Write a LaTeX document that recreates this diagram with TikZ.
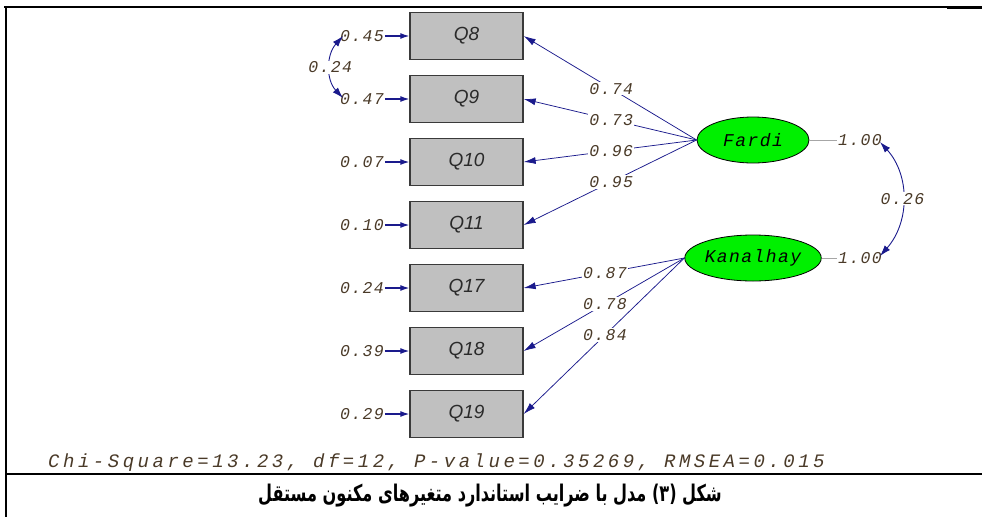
\documentclass[tikz,border=0pt]{standalone}
\usepackage{fontspec}
\usetikzlibrary{shapes.geometric,arrows.meta}
\TeXXeTstate=1
\newfontfamily\lisfont[LetterSpace=8]{Liberation Mono}
\newfontfamily\chifont[LetterSpace=18.5]{Liberation Mono}
\newfontfamily\qfont{Liberation Sans}
\newfontfamily\fafont[Script=Arabic]{DejaVu Sans}
\definecolor{numc}{HTML}{4A3A28}
\definecolor{boxfill}{HTML}{C0C0C0}
\definecolor{boxline}{HTML}{3A3A3A}
\definecolor{qtext}{HTML}{2A2A2A}
\definecolor{latgreen}{HTML}{00F000}
\definecolor{pathc}{HTML}{1A1A8C}
\tikzset{
 obs/.style={draw=boxline, fill=boxfill, line width=1.3pt, minimum width=113pt, minimum height=47pt, inner sep=0pt, font=\qfont\itshape\fontsize{19}{19}\selectfont, text=qtext},
 lat/.style={ellipse, draw=black, line width=0.8pt, fill=latgreen, minimum width=112pt, minimum height=46pt, inner sep=0pt, font=\lisfont\itshape\fontsize{18}{18}\selectfont},
 num/.style={font=\lisfont\itshape\fontsize{16.5}{16.5}\selectfont, text=numc, inner sep=1pt},
 numw/.style={num, fill=white},
 load/.style={draw=pathc, line width=0.75pt, -{Latex[length=12pt,width=7pt]}},
 err/.style={draw=pathc, line width=1.2pt, -{Latex[length=9pt,width=6pt]}},
 cov/.style={draw=pathc, line width=0.9pt, {Latex[length=11pt,width=7pt]}-{Latex[length=11pt,width=7pt]}},
 framel/.style={draw=black, line width=2pt},
 unitl/.style={draw=gray!70, line width=0.7pt},
}
\begin{document}
\begin{tikzpicture}[x=1pt,y=-1pt]
\useasboundingbox (0,0) rectangle (982,517);
% frame
\draw[framel] (4,7) -- (982,7);
\draw[black, line width=3pt] (947,7) -- (982,7);
\draw[framel] (6,7) -- (6,517);
\draw[framel] (6,474) -- (982,474);
% observed variables
\node[obs] (Q8)  at (466.5,36)  {Q8};
\node[obs] (Q9)  at (466.5,99)  {Q9};
\node[obs] (Q10) at (466.5,162) {Q10};
\node[obs] (Q11) at (466.5,225) {Q11};
\node[obs] (Q17) at (466.5,288) {Q17};
\node[obs] (Q18) at (466.5,351) {Q18};
\node[obs] (Q19) at (466.5,414) {Q19};
% error variances
\node[num] (e8)  at (362,36)  {0.45};
\node[num] (e9)  at (362,99)  {0.47};
\node[num] (e10) at (362,162) {0.07};
\node[num] (e11) at (362,225) {0.10};
\node[num] (e17) at (362,288) {0.24};
\node[num] (e18) at (362,351) {0.39};
\node[num] (e19) at (362,414) {0.29};
\foreach \q in {8,9,10,11,17,18,19}{\draw[err] (e\q.east) -- (Q\q.west);}
% error covariance
\coordinate (c8) at (343,36);
\coordinate (c9) at (343,98);
\draw[cov] (c8) .. controls (326,55) and (326,80) .. node[numw, pos=0.5] (r89) {0.24} (c9);
% latent variables
\node[lat] (Fardi) at (753,140) {Fardi};
\node[lat] (Kanal) at (753,258) {Kanalhay};
\node[num] (vF) at (860,140) {1.00};
\node[num] (vK) at (860,258) {1.00};
\draw[unitl] (Fardi.east) -- (vF.west);
\draw[unitl] (Kanal.east) -- (vK.west);
% loadings
\draw[load] (Fardi.west) -- node[numw, pos=0.494] {0.74} (Q8.east);
\draw[load] (Fardi.west) -- node[numw, pos=0.494] {0.73} (Q9.east);
\draw[load] (Fardi.west) -- node[numw, pos=0.494] {0.96} (Q10.east);
\draw[load] (Fardi.west) -- node[numw, pos=0.494] {0.95} (Q11.east);
\draw[load] (Kanal.west) -- node[numw, pos=0.494] {0.87} (Q17.east);
\draw[load] (Kanal.west) -- node[numw, pos=0.494] {0.78} (Q18.east);
\draw[load] (Kanal.west) -- node[numw, pos=0.494] {0.84} (Q19.east);
% latent covariance
\coordinate (cF) at (880,142);
\coordinate (cK) at (880,256);
\draw[cov] (cF) .. controls (910,175) and (910,222) .. node[numw, pos=0.5] (rFK) {0.26} (cK);
% fit statistics
\node[anchor=west, inner sep=0pt, text=numc, font=\chifont\itshape\fontsize{19}{19}\selectfont] (fit) at (48,463) {Chi-Square=13.23, df=12, P-value=0.35269, RMSEA=0.015};
% caption
\node[inner sep=0pt, font=\fafont\bfseries\fontsize{23}{23}\selectfont, xscale=0.7] (cap) at (490,496) {\beginR شکل (۳) مدل با ضرایب استاندارد متغیرهای مکنون مستقل\endR};
\end{tikzpicture}
\end{document}
